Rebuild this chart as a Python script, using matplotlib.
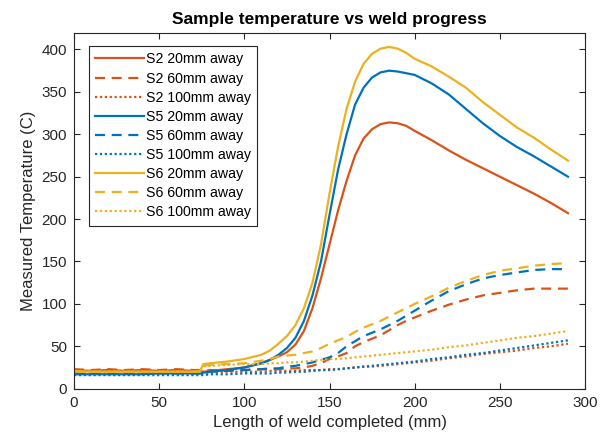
import matplotlib
matplotlib.use("Agg")
import matplotlib.pyplot as plt

plt.rcParams['font.family'] = ['Liberation Sans', 'DejaVu Sans']

# weld length grid (mm)
x_mm = [0, 10, 20, 30, 40, 50, 60, 70, 74, 76, 80, 90, 100, 110, 115, 120, 125, 130,
        135, 140, 145, 150, 155, 160, 165, 170, 175, 180, 185, 190, 195, 200, 210,
        220, 230, 240, 250, 260, 270, 280, 290]

s2_20 = [22, 21, 22, 21, 22, 21, 22, 21, 21, 20, 21, 23, 25, 30, 34, 38, 43, 52,
         68, 95, 130, 170, 210, 245, 275, 295, 306, 312, 314, 313, 310, 304, 293,
         281, 270, 260, 250, 240, 230, 219, 207]
s2_60 = [23, 22, 23, 22, 23, 22, 23, 22, 22, 21, 22, 22, 22, 23, 23, 23, 24, 24,
         25, 27, 30, 35, 38, 42, 50, 55, 59, 63, 69, 75, 80, 84, 92,
         99, 105, 110, 113, 116, 118, 118, 118]
s2_100 = [19, 19, 19, 19, 19, 19, 19, 19, 19, 19, 19, 20, 20, 20, 21, 21, 21, 21,
          22, 22, 22, 23, 23, 24, 25, 26, 26, 27, 28, 29, 30, 31, 33,
          36, 38, 41, 43, 45, 48, 50, 53]
s5_20 = [17, 17, 17, 17, 17, 18, 18, 18, 18, 19, 20, 22, 25, 30, 34, 40, 48, 60,
         80, 110, 150, 205, 258, 300, 335, 355, 367, 373, 375, 374, 372, 370, 360,
         347, 330, 313, 298, 285, 274, 262, 250]
s5_60 = [18, 18, 18, 18, 18, 18, 18, 18, 18, 19, 20, 21, 22, 23, 24, 24, 26, 27,
         29, 31, 34, 37, 42, 50, 56, 62, 66, 70, 75, 80, 86, 92, 104,
         115, 123, 130, 134, 137, 140, 141, 141]
s5_100 = [16, 16, 16, 16, 16, 16, 16, 16, 16, 16, 17, 17, 18, 18, 18, 19, 19, 20,
          20, 21, 22, 22, 23, 24, 25, 26, 27, 28, 29, 30, 31, 32, 35,
          37, 40, 42, 45, 48, 51, 54, 57]
s6_20 = [21, 20, 20, 20, 20, 20, 20, 20, 21, 29, 30, 32, 35, 40, 45, 53, 62, 75,
         95, 125, 170, 230, 285, 330, 362, 383, 395, 401, 403, 401, 396, 389, 380,
         368, 355, 338, 323, 308, 296, 282, 269]
s6_60 = [20, 20, 20, 20, 20, 20, 20, 20, 20, 27, 28, 29, 30, 33, 35, 38, 39, 40,
         42, 44, 48, 53, 57, 61, 67, 72, 76, 80, 85, 90, 95, 100, 109,
         119, 127, 134, 139, 142, 145, 147, 148]
s6_100 = [20, 20, 20, 20, 20, 20, 20, 20, 20, 26, 27, 28, 29, 29, 30, 30, 31, 31,
          32, 33, 34, 35, 35, 36, 37, 38, 39, 40, 41, 42, 43, 44, 46,
          49, 51, 54, 57, 60, 62, 65, 68]

RED = '#D95319'
BLUE = '#0072BD'
YELLOW = '#EDB120'
DASH = (0, (4.5, 3))
DOT = (0, (1, 1.2))

series = [
    (s2_20, RED, '-', 'S2 20mm away'),
    (s2_60, RED, DASH, 'S2 60mm away'),
    (s2_100, RED, DOT, 'S2 100mm away'),
    (s5_20, BLUE, '-', 'S5 20mm away'),
    (s5_60, BLUE, DASH, 'S5 60mm away'),
    (s5_100, BLUE, DOT, 'S5 100mm away'),
    (s6_20, YELLOW, '-', 'S6 20mm away'),
    (s6_60, YELLOW, DASH, 'S6 60mm away'),
    (s6_100, YELLOW, DOT, 'S6 100mm away'),
]

fig = plt.figure(figsize=(6.07, 4.41), dpi=100)
ax = fig.add_axes([0.1219, 0.1186, 0.8419, 0.8077])

for vals, color, ls, name in series:
    ax.plot(x_mm, vals, color=color, linestyle=ls, linewidth=1.6, label=name)

ax.set_xlim(0, 300)
ax.set_ylim(0, 420)
ax.set_xticks(range(0, 301, 50))
ax.set_yticks(range(0, 401, 50))

edge = '#262626'
for sp in ax.spines.values():
    sp.set_color(edge)
    sp.set_linewidth(0.8)
ax.tick_params(direction='in', length=4, width=0.8, top=True, right=True,
               colors=edge, labelsize=11, pad=5)

ax.set_title('Sample temperature vs weld progress', fontsize=12.5,
             fontweight='bold', color='black', pad=6)
ax.set_xlabel('Length of weld completed (mm)', fontsize=12, color=edge)
ax.set_ylabel('Measured Temperature (C)', fontsize=12, color=edge)

leg = ax.legend(loc='upper left', bbox_to_anchor=(0.0294, 0.962), borderaxespad=0,
                fontsize=10.2, handlelength=3.4, handletextpad=0.15,
                labelspacing=0.36, borderpad=0.45, fancybox=False, framealpha=1)
leg.get_frame().set_edgecolor(edge)
leg.get_frame().set_linewidth(0.8)

fig.savefig('out.png', dpi=100)
